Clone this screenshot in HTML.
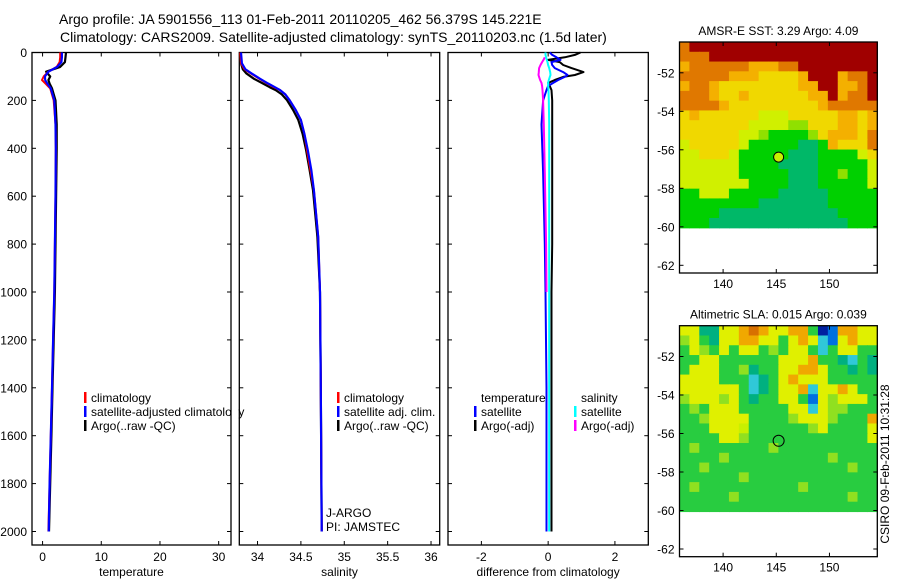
<!DOCTYPE html>
<html><head><meta charset="utf-8"><style>
body{margin:0;background:#fff;}
svg{display:block;font-family:"Liberation Sans",sans-serif;}
text{fill:#000;}
</style></head><body>
<svg id="fig" width="900" height="580" viewBox="0 0 900 580">
<text x="59" y="24" font-size="14">Argo profile: JA 5901556_113 01-Feb-2011 20110205_462 56.379S 145.221E</text>
<text x="60" y="42" font-size="14">Climatology: CARS2009. Satellite-adjusted climatology: synTS_20110203.nc (1.5d later)</text>
<g id="layer"></g>
</svg>
<script>
// ---- data ----
const tDepth = [0,20,40,60,80,100,115,130,150,200,300,400,600,800,1000,1200,1400,1600,1800,2000];
const tClim  = [3.0,3.0,2.9,2.4,1.0,0.2,-0.1,0.5,1.3,1.9,2.2,2.25,2.2,2.1,2.0,1.8,1.6,1.4,1.2,1.0];
const tSat   = [3.3,3.3,3.2,2.5,1.0,0.4,0.45,0.8,1.4,2.0,2.2,2.25,2.2,2.1,2.0,1.8,1.6,1.4,1.2,1.05];
const tArgo  = [4.0,3.9,3.8,3.0,0.6,1.3,1.0,1.2,1.6,2.2,2.4,2.4,2.3,2.2,2.1,1.9,1.7,1.5,1.3,1.1];
const sDepth = [0,45,70,87,110,129,145,157,175,199,240,282,340,408,490,575,770,1000,1400,2000];
const sClim  = [33.80,33.81,33.85,33.92,34.02,34.11,34.19,34.26,34.32,34.37,34.44,34.50,34.54,34.57,34.61,34.65,34.70,34.72,34.73,34.74];
const sSat   = [33.81,33.82,33.86,33.93,34.03,34.12,34.20,34.26,34.32,34.37,34.44,34.50,34.54,34.58,34.62,34.65,34.70,34.72,34.73,34.74];
const sArgo  = [33.80,33.81,33.83,33.87,33.96,34.06,34.14,34.21,34.28,34.34,34.41,34.47,34.52,34.56,34.60,34.64,34.69,34.72,34.73,34.74];
const dDepth = [0,10,20,31,40,52,65,82,94,102,115,127,140,157,200,300,500,800,1000,1400,2000];
const dTArgo = [0.97,0.8,0.5,0.0,0.35,0.45,0.7,1.06,0.8,0.45,0.2,0.0,0.05,0.1,0.12,0.12,0.12,0.12,0.1,0.1,0.1];
const dTSat  = [0.05,0.12,0.25,0.37,0.1,0.12,0.2,0.45,0.58,0.5,0.3,0.15,0.0,-0.05,-0.15,-0.2,-0.15,-0.1,-0.08,-0.05,-0.05];
const dSSat  = [-0.08,-0.08,-0.06,-0.04,-0.02,0.0,0.03,0.06,0.07,0.05,0.02,0.0,0.0,0.01,0.02,0.03,0.03,0.03,0.03,0.03,0.03];
const dSArgo = [null,null,-0.1,-0.14,-0.18,-0.23,-0.27,-0.28,-0.29,-0.27,-0.24,-0.2,-0.18,-0.17,-0.15,-0.13,-0.1,-0.06,-0.05,null,null];
const depthTicks = [0,200,400,600,800,1000,1200,1400,1600,1800,2000];
const tTicks = [0,10,20,30];
const sTicks = [34,34.5,35,35.5,36];
const sTickLabels = ["34","34.5","35","35.5","36"];
const dTicks = [-2,0,2];
const lonTicks = [140,145,150];
const latTicks = [-52,-54,-56,-58,-60,-62];
// map grids (row strings, top = north)
const sstRows = [
"ORRRRRRRRRRRRRRRRRRR","OOORRRRRRRRRRRRRRRRR","oOOOOOOoooOORRRRRRRR","OOOOOoooYYYYoRRRoOOR",
"oOOoYYYYYYYYooRRooOR","OOOoYYoYYYYYYooRoOOR","OOOOoYYYYYYYYYoOOOOO","YoYYYYYYyyyYYYYYooYo",
"YYYYYYYyyyyLLYYYooYo","YYYYYYyyLGGGGLYoooYO","yYYYYYyGGGGGTTGoYYYO","yyYYYyGGGGGTTTGGGGyY",
"yyyyyyGGGGTTTTGGGGGy","yyyyyyGGGGGTTTGGLGGy","yyyyyyyGGGGTTTGGGGGy","GGyyyGGGGGTTTTTGGGGG",
"GGGGGGGGTTTTTTTGGGGG","GGGGTTTTTTTTTTTTGGGG","GGGTTTTTTTTTTTTTTGGG"];
const slaRows = [
"YYTTYYOoOYYOOGNBOOYY","gYGTYYOOYYGYOYCBYOYY","GYgGYGYYGgGYYGCGYYGG","GGYYGGGGGGYYYOGGTCGT",
"GYYYGGgTGGYYOOYGGTGT","YYYYGGGCTGYOYYYGGGGG","YYYYYYGCTGYYOCYYOYGG","gYYYgYGTGGYYGBYgYYYG",
"GgGYYYGGGGGYYCYggGGG","GGgYYYYGGGGgYYYgGGGO","GGGYYYyGGGGGGgYGGGGY","GGGGYYgGGGGGGGGGGGGY",
"GgGGGGGGGgGGGGGGGGGG","GGGGgGGGGGGGGGGgGGGG","GGgGGGGGGGGGGGGGGgGG","GGGGGGgGGGGGGGGGGGGG",
"GgGGGGGGGGGGgGGGGGGG","GGGGGgGGGGGGGGGGGgGG","GGGGGGGGGGGGGGGGGGGG"];
const sstColors = {R:"#a00000",O:"#e07800",o:"#f4b000",Y:"#f0d800",y:"#d0f000",L:"#90e000",G:"#00d000",T:"#00b868"};
const slaColors = {G:"#28cc40",g:"#90e020",Y:"#e0f000",y:"#c8f000",O:"#f0a800",o:"#d87000",T:"#00b080",C:"#30c8d8",B:"#0070e0",N:"#0020a0"};

const NS="http://www.w3.org/2000/svg";
const L=document.getElementById('layer');
function mk(tag,attrs,parent){const e=document.createElementNS(NS,tag);for(const k in attrs)e.setAttribute(k,attrs[k]);(parent||L).appendChild(e);return e;}
function txt(x,y,s,anchor,size,parent){const t=mk('text',{x:x,y:y,'font-size':size||12,'text-anchor':anchor||'start'},parent);t.textContent=s;return t;}

const Y0=52.5, YS=0.2395, PT=52.5, PB=545;
function yD(d){return Y0+d*YS;}

function panel(name,x0,x1,vmin,vmax,ticks,labels,xlabel,showY){
  const g=mk('g',{});
  
  
  const xs=v=>x0+(v-vmin)/(vmax-vmin)*(x1-x0);
  const r=mk('rect',{x:x0,y:PT,width:x1-x0,height:PB-PT,fill:'none',stroke:'#000','stroke-width':1.3},g);
  
  
  ticks.forEach((v,i)=>{const x=xs(v);
    mk('line',{x1:x,x2:x,y1:PB,y2:PB-4,stroke:'#000'},g);
    mk('line',{x1:x,x2:x,y1:PT,y2:PT+4,stroke:'#000'},g);
    const t=txt(x,561,labels[i],'middle',12,g);
    
    
  });
  depthTicks.forEach(d=>{const y=yD(d);
    mk('line',{x1:x0,x2:x0+4,y1:y,y2:y,stroke:'#000'},g);
    mk('line',{x1:x1,x2:x1-4,y1:y,y2:y,stroke:'#000'},g);
    if(showY){const t=txt(27,y+4.5,String(d),'end',12,g);
      
      }
  });
  const xl=txt((x0+x1)/2,576,xlabel,'middle',12,g);
  
  
  return xs;
}
function series(xs,depths,vals,color,w,name){
  let d='',pen=false;
  depths.forEach((z,i)=>{const v=vals[i];if(v===null||v===undefined){pen=false;return;}
    d+=(pen?'L':'M')+xs(v).toFixed(1)+' '+yD(z).toFixed(1)+' ';pen=true;});
  const p=mk('path',{d:d,fill:'none',stroke:color,'stroke-width':w,'stroke-linejoin':'round'});
  
  
}
function legend(x,y,color,label,name){
  if(color){const b=mk('rect',{x:x,y:y-10,width:2.5,height:11,fill:color});
    
    }
  const t=txt(x+7,y,label,'start',12);
  
  
}

// panel 1 temperature
const xT=panel('temperature',32,231,-1.8,32.1,tTicks,tTicks.map(String),'temperature',true);
series(xT,tDepth,tArgo,'#000',2.2,'temperature-argo-line');
series(xT,tDepth,tClim,'#f00',2,'temperature-climatology-line');
series(xT,tDepth,tSat,'#0000ff',2.2,'temperature-satellite-line');
legend(84,402,'#f00','climatology','legend-climatology');
legend(84,416,'#0000ff','satellite-adjusted climatology','legend-satellite-adjusted');
legend(84,430,'#000','Argo(..raw -QC)','legend-argo');
mk('rect',{x:232,y:380,width:6,height:40,fill:'#fff'});

// panel 2 salinity
const xS=panel('salinity',239.3,439.7,33.79,36.10,sTicks,sTickLabels,'salinity',false);
series(xS,sDepth,sArgo,'#000',2.2,'salinity-argo-line');
series(xS,sDepth,sClim,'#f00',2,'salinity-climatology-line');
series(xS,sDepth,sSat,'#0000ff',2.2,'salinity-satellite-line');
legend(337,402,'#f00','climatology','legend-sal-climatology');
legend(337,416,'#0000ff','satellite adj. clim.','legend-sal-satellite');
legend(337,430,'#000','Argo(..raw -QC)','legend-sal-argo');
const j1=txt(326,517,'J-ARGO','start',12);


const j2=txt(326,531,'PI: JAMSTEC','start',12);



// panel 3 differences
const xDf=panel('difference',448,648.3,-3.0,3.0,dTicks,dTicks.map(String),'difference from climatology',false);
series(xDf,dDepth,dTArgo,'#000',2,'diff-temp-argo-line');
series(xDf,dDepth,dTSat,'#0000ff',2,'diff-temp-satellite-line');
series(xDf,dDepth,dSArgo,'#ff00ff',2,'diff-sal-argo-line');
series(xDf,dDepth,dSSat,'#00ffff',2,'diff-sal-satellite-line');
legend(474,402,null,'temperature','legend-diff-temperature-header');
legend(474,416,'#0000ff','satellite','legend-diff-temp-satellite');
legend(474,430,'#000','Argo(-adj)','legend-diff-temp-argo');
legend(574,402,null,'salinity','legend-diff-salinity-header');
legend(574,416,'#00ffff','satellite','legend-diff-sal-satellite');
legend(574,430,'#ff00ff','Argo(-adj)','legend-diff-sal-argo');

// maps
const LON0=135.9, LON1=154.5, LAT0=-50.4, LAT1=-62.4;
function mapPanel(name,top,title,rows,colors){
  const x0=679.5,x1=877.3,bot=top+231;
  const lx=v=>x0+(v-LON0)/(LON1-LON0)*(x1-x0);
  const ly=v=>top+(v-LAT0)/(LAT1-LAT0)*(bot-top);
  const g=mk('g',{});
  
  
  const nr=rows.length,nc=rows[0].length;
  const yEnd=ly(-60.05), cw=(x1-x0)/nc, ch=(yEnd-top)/nr;
  rows.forEach((row,r)=>{for(let c=0;c<nc;c++){
    mk('rect',{x:(x0+c*cw).toFixed(2),y:(top+r*ch).toFixed(2),width:(cw+0.6).toFixed(2),height:(ch+0.6).toFixed(2),fill:colors[row[c]]},g);}});
  const fr=mk('rect',{x:x0,y:top,width:x1-x0,height:bot-top,fill:'none',stroke:'#000','stroke-width':1.3},g);
  
  
  lonTicks.forEach(v=>{const x=lx(v);
    mk('line',{x1:x,x2:x,y1:top,y2:top+4,stroke:'#000'},g);
    mk('line',{x1:x,x2:x,y1:bot,y2:bot-4,stroke:'#000'},g);
    const t=txt(x,bot+15,String(v),'middle',12,g);
    
    });
  latTicks.forEach(v=>{const y=ly(v);
    mk('line',{x1:x0,x2:x0+4,y1:y,y2:y,stroke:'#000'},g);
    mk('line',{x1:x1,x2:x1-4,y1:y,y2:y,stroke:'#000'},g);
    const t=txt(x0-5,y+4.5,String(v),'end',12,g);
    
    });
  const tt=txt((x0+x1)/2,top-7,title,'middle',12,g);
  
  
  return {lx,ly,g};
}
const m1=mapPanel('sst',42,'AMSR-E SST: 3.29 Argo: 4.09',sstRows,sstColors);
const c1=mk('circle',{cx:m1.lx(145.221),cy:m1.ly(-56.379),r:5,fill:'#c8f000',stroke:'#000','stroke-width':1},m1.g);


const m2=mapPanel('sla',325.7,'Altimetric SLA: 0.015 Argo: 0.039',slaRows,slaColors);
const c2=mk('circle',{cx:m2.lx(145.221),cy:m2.ly(-56.379),r:5.5,fill:'none',stroke:'#000','stroke-width':1},m2.g);



const cs=txt(0,0,'CSIRO 09-Feb-2011 10:31:28','middle',12);
cs.setAttribute('transform','translate(889,464) rotate(-90)');


</script>
</body></html>
